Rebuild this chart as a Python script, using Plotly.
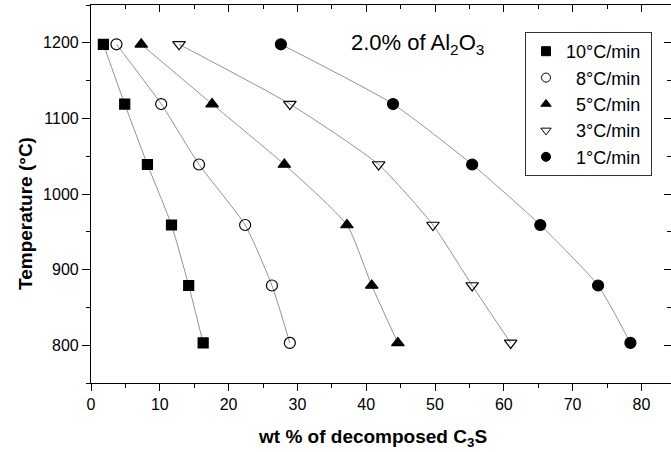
import plotly.graph_objects as go

temps = [1198, 1119, 1039, 959, 879, 803]
rate_names = ["10°C/min", "\u00a0\u00a08°C/min", "\u00a0\u00a05°C/min", "\u00a0\u00a03°C/min", "\u00a0\u00a01°C/min"]
wt_10 = [1.8, 4.9, 8.2, 11.7, 14.2, 16.3]
wt_8 = [3.7, 10.2, 15.7, 22.4, 26.3, 28.9]
wt_5 = [7.3, 17.6, 28.1, 37.2, 40.8, 44.6]
wt_3 = [12.8, 28.9, 41.8, 49.7, 55.4, 61.0]
wt_1 = [27.6, 43.9, 55.4, 65.3, 73.7, 78.4]
series = [wt_10, wt_8, wt_5, wt_3, wt_1]
symbols = ["square", "circle-open", "triangle-up", "triangle-down-open", "circle"]
sizes = [10, 11, 11, 11, 11]

FONT = "Arial, Liberation Sans, sans-serif"
fig = go.Figure()
for name, xs, sym, sz in zip(rate_names, series, symbols, sizes):
    fig.add_trace(go.Scatter(
        x=xs, y=temps, mode="lines", showlegend=False, hoverinfo="skip",
        line=dict(color="#777777", width=0.8, shape="spline", smoothing=0.55),
    ))
for name, xs, sym, sz in zip(rate_names, series, symbols, sizes):
    fig.add_trace(go.Scatter(
        x=xs, y=temps, mode="markers", showlegend=False,
        marker=dict(symbol=sym, size=sz, color="black",
                    line=dict(color="black", width=1.2)),
    ))
for name, xs, sym, sz in zip(rate_names, series, symbols, sizes):
    fig.add_trace(go.Scatter(
        x=[None], y=[None], mode="markers", name=name + "\u00a0",
        marker=dict(symbol=sym, size=9, color="black",
                    line=dict(color="black", width=1)),
    ))

XR = [0, 84.3]
YR = [750, 1250]
axis_common = dict(showline=True, linecolor="black", linewidth=1.2, showgrid=False,
                   zeroline=False, tickcolor="black", tickwidth=1.2)
fig.update_layout(
    width=671, height=452,
    margin=dict(l=91, r=0, t=5, b=69),
    plot_bgcolor="white", paper_bgcolor="white",
    font=dict(family=FONT, size=16, color="black"),
    xaxis=dict(range=XR, dtick=10, tick0=0, ticks="outside", ticklen=7,
               minor=dict(dtick=5, ticks="outside", ticklen=4, tickcolor="black", tickwidth=1.2),
               tickfont=dict(size=16), **axis_common),
    yaxis=dict(range=YR, dtick=100, tick0=800, ticks="outside", ticklen=8,
               minor=dict(dtick=50, ticks="outside", ticklen=4, tickcolor="black", tickwidth=1.2),
               tickfont=dict(size=16), **axis_common),
    xaxis2=dict(range=XR, overlaying="x", side="top", dtick=10, tick0=0, ticks="inside",
                ticklen=7, showticklabels=False,
                minor=dict(dtick=5, ticks="inside", ticklen=4, tickcolor="black", tickwidth=1.2),
                **axis_common),
    yaxis2=dict(range=YR, overlaying="y", side="right", dtick=100, tick0=800, ticks="inside",
                ticklen=7, showticklabels=False,
                minor=dict(dtick=50, ticks="inside", ticklen=4, tickcolor="black", tickwidth=1.2),
                **axis_common),
    legend=dict(x=(525 - 91) / 580, y=1 - (32 - 5) / 378, xanchor="left", yanchor="top",
                bgcolor="white", bordercolor="#333333", borderwidth=1,
                font=dict(size=18, family=FONT), itemwidth=30),
    showlegend=True,
)
fig.add_trace(go.Scatter(x=[None], y=[None], xaxis="x2", yaxis="y2", showlegend=False,
                         hoverinfo="skip"))

fig.add_annotation(x=47.5, y=1198, xref="x", yref="y",
                   text="2.0% of Al<sub>2</sub>O<sub>3</sub>", showarrow=False,
                   font=dict(size=22, family=FONT))
fig.add_annotation(x=(372 - 91) / 580, y=-(438 - 383) / 378, xref="paper", yref="paper",
                   showarrow=False, yanchor="middle",
                   text="<b>wt % of decomposed C<sub>3</sub>S</b>",
                   font=dict(size=19, family=FONT))
fig.add_annotation(x=-(91 - 25) / 580, y=1 - (214 - 5) / 378, xref="paper", yref="paper",
                   showarrow=False, textangle=-90, xanchor="center", yanchor="middle",
                   text="<b>Temperature (°C)</b>", font=dict(size=19, family=FONT))

fig.write_html("out.html")
